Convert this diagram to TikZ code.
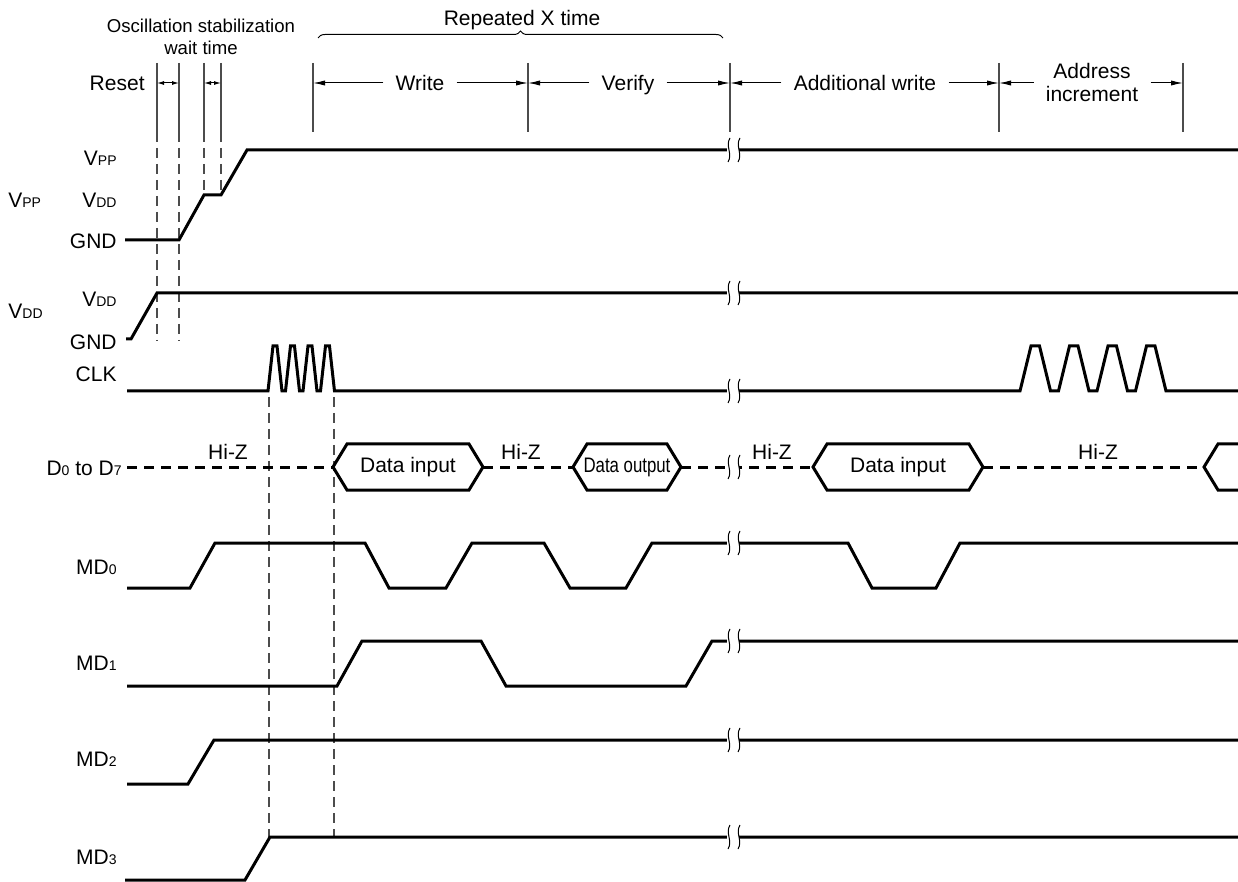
\documentclass[tikz,border=0pt]{standalone}
\usepackage{graphicx}
\usepackage{fontspec}
\setmainfont{Liberation Sans}
\usetikzlibrary{arrows.meta,decorations.pathreplacing}
\newcommand{\smallsub}[1]{{\fontsize{7}{8}\selectfont #1}}

\begin{document}
\begin{tikzpicture}[x=0.5pt,y=-0.5pt,
    font=\fontsize{10.5}{12}\selectfont,
    sig/.style={line width=1.5pt,line join=miter},
    hiz/.style={line width=1.5pt,dash pattern=on 5pt off 3.5pt},
    timeline/.style={line width=0.6pt,black!70},
    guide/.style={line width=0.6pt,black!70,dash pattern=on 5pt off 3pt},
    dim/.style={line width=0.5pt,-{Latex[length=6pt,width=2.6pt]}},
    tinydim/.style={line width=0.5pt,-{Latex[length=3.5pt,width=2pt]}},
    lbl/.style={anchor=east,inner sep=0pt},
    head/.style={inner sep=6pt,text depth=0pt}]
    \useasboundingbox (0,0) rectangle (1238,882);

    % time marks at the top
    \foreach \xx in {157,179,204,221,313,528,730,999,1183} {
        \draw[timeline] (\xx,63) -- (\xx,132);
        \coordinate (t\xx) at (\xx,83);
    }
    \draw[guide] (157,132) -- (157,341);
    \draw[guide] (179,132) -- (179,341);
    \draw[guide] (204,132) -- (204,195);
    \draw[guide] (221,132) -- (221,195);

    \node[font=\fontsize{9.3}{11}\selectfont,align=center] (osc) at (201,37) {Oscillation stabilization\\wait time};
    \node[lbl] (reset) at (145,83) {Reset};
    \draw[tinydim] (168,83) -- (t157);
    \draw[tinydim] (168,83) -- (t179);
    \draw[tinydim] (212.5,83) -- (t204);
    \draw[tinydim] (212.5,83) -- (t221);

    \node (rep) at (522,20) {Repeated X time};
    \draw[line width=0.5pt,decorate,decoration={brace,amplitude=3.5pt}] (318,38) -- (723,38);

    \node[head] (write) at (420,83) {Write};
    \draw[dim] (write.west) -- (t313);
    \draw[dim] (write.east) -- (t528);
    \node[head] (verify) at (628,83) {Verify};
    \draw[dim] (verify.west) -- (t528);
    \draw[dim] (verify.east) -- (t730);
    \node[head] (addw) at (865,83) {Additional write};
    \draw[dim] (addw.west) -- (t730);
    \draw[dim] (addw.east) -- (t999);
    \node[inner sep=6pt,align=center,font=\fontsize{10.5}{11.5}\selectfont] (addr) at (1092,82) {Address\\increment};
    \draw[dim] (addr.west |- t999) -- (t999);
    \draw[dim] (addr.east |- t1183) -- (t1183);

    % signal names
    \node[anchor=west,inner sep=0pt] (vpp) at (8,200) {V\smallsub{PP}};
    \node[lbl] (vpph) at (117,158) {V\smallsub{PP}};
    \node[lbl] (vppm) at (117,200) {V\smallsub{DD}};
    \node[lbl] (vppl) at (117,241) {GND};
    \node[anchor=west,inner sep=0pt] (vdd) at (8,311) {V\smallsub{DD}};
    \node[lbl] (vddh) at (117,299) {V\smallsub{DD}};
    \node[lbl] (vddl) at (117,342) {GND};
    \node[lbl] (clk) at (117,374) {CLK};
    \node[lbl] (dbus) at (122,468) {D\smallsub{0} to D\smallsub{7}};
    \node[lbl] (md0) at (117,567) {MD\smallsub{0}};
    \node[lbl] (md1) at (117,663) {MD\smallsub{1}};
    \node[lbl] (md2) at (117,759) {MD\smallsub{2}};
    \node[lbl] (md3) at (117,857) {MD\smallsub{3}};

    % waveforms
    \draw[sig] (125,240) -- (179,240) -- (204,195) -- (221,195) -- (247,150) -- (1238,150);
    \draw[sig] (126,339) -- (131,339) -- (157,293) -- (1238,293);
    \draw[sig] (127,391) -- (268,391)
        \foreach \k in {0,...,3} { -- ++(5,-45) -- ++(4,0) -- ++(5,45) -- ++(3.5,0) }
        -- (1020,391)
        \foreach \k in {0,...,3} { -- ++(11,-45) -- ++(8.5,0) -- ++(11,45) -- ++(8,0) }
        -- (1238,391);
    \draw[guide] (269,397) -- (269,837);
    \draw[guide] (334,397) -- (334,837);

    \draw[hiz] (127,467) -- (333,467);
    \draw[hiz] (483,467) -- (573,467);
    \draw[hiz] (681,467) -- (813,467);
    \draw[hiz] (983,467) -- (1204,467);
    \foreach \xa/\xb in {333/483,573/681,813/983}
        \draw[sig] (\xa,467) -- (\xa+14,444) -- (\xb-14,444) -- (\xb,467) -- (\xb-14,490) -- (\xa+14,490) -- cycle;
    \draw[sig] (1238,444) -- (1218,444) -- (1204,467) -- (1218,490) -- (1238,490);
    \node (din1) at (408,467) {Data input};
    \node (dout) at (627,467) {\scalebox{0.8}[1]{Data output}};
    \node (din2) at (898,467) {Data input};
    \foreach \xx/\nm in {228/hz1,521/hz2,772/hz3,1098/hz4}
        \node (\nm) at (\xx,452) {Hi-Z};

    \draw[sig] (127,588) -- (190,588) -- (215,543) -- (365,543) -- (389,588) -- (446,588) -- (472,543)
        -- (544,543) -- (570,588) -- (626,588) -- (652,543) -- (848,543) -- (872,588) -- (936,588)
        -- (960,543) -- (1238,543);
    \draw[sig] (127,686) -- (337,686) -- (362,641) -- (481,641) -- (506,686) -- (686,686) -- (712,641) -- (1238,641);
    \draw[sig] (127,784) -- (188,784) -- (214,740) -- (1238,740);
    \draw[sig] (125,880) -- (245,880) -- (270,837) -- (1238,837);

    % breaks
    \foreach \yy in {150,293,391,467,543,641,740,837} {
        \fill[white] (727,\yy-5) rectangle (739,\yy+5);
        \draw[line width=0.5pt] (730,\yy-12) .. controls (725,\yy-4) and (733,\yy+4) .. (728,\yy+12);
        \draw[line width=0.5pt] (740,\yy-12) .. controls (735,\yy-4) and (743,\yy+4) .. (738,\yy+12);
    }
\end{tikzpicture}
\end{document}
